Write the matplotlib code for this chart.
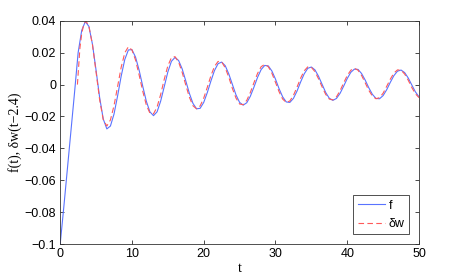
import numpy as np
import matplotlib
matplotlib.use("Agg")
import matplotlib.pyplot as plt
from matplotlib.ticker import FixedLocator, FixedFormatter

# f(t), every 0.5
t_f = np.arange(0, 50.01, 0.5)
f_vals = [-0.100, -0.077, -0.053, -0.029, -0.005, 0.020, 0.034, 0.0395,
          0.0365, 0.0252, 0.0089, -0.0082, -0.0216, -0.0278,
          -0.0260, -0.0185, -0.0071, 0.0053, 0.0157, 0.0217,
          0.0219, 0.0172, 0.0090, -0.0010, -0.0104, -0.0171, -0.0195,
          -0.0171, -0.0104, -0.0013, 0.0079, 0.0146, 0.0170,
          0.0151, 0.0098, 0.0023, -0.0055, -0.0118, -0.0152,
          -0.0149, -0.0112, -0.0050, 0.0022, 0.0088, 0.0131,
          0.0141, 0.0118, 0.0066, 0.0000, -0.0065, -0.0112, -0.0129,
          -0.0114, -0.0073, -0.0016, 0.0045, 0.0094, 0.0120,
          0.0117, 0.0085, 0.0034, -0.0026, -0.0077, -0.0109,
          -0.0112, -0.0087, -0.0041, 0.0016, 0.0067, 0.0102,
          0.0110, 0.0092, 0.0052, 0.0001, -0.0050, -0.0086, -0.0099,
          -0.0087, -0.0055, -0.0010, 0.0038, 0.0077, 0.0097,
          0.0095, 0.0069, 0.0028, -0.0020, -0.0061, -0.0087,
          -0.0089, -0.0069, -0.0032, 0.0014, 0.0056, 0.0084,
          0.0091, 0.0075, 0.0041, -0.0003, -0.0046, -0.0077]

# dw(t-2.4), starts at t = 2.4
t_w = [2.4, 2.75, 3.0, 3.3, 3.6] + list(np.arange(4.0, 50.01, 0.5))
w_vals = [0.000, 0.023, 0.032, 0.038, 0.0398,
          0.0366, 0.0249, 0.0078, -0.0096, -0.0220,
          -0.0260, -0.0222, -0.0132, -0.0012, 0.0109, 0.0199, 0.0237,
          0.0217, 0.0154, 0.0060, -0.0041, -0.0128, -0.0179,
          -0.0184, -0.0141, -0.0062, 0.0033, 0.0117, 0.0169,
          0.0175, 0.0141, 0.0076, -0.0003, -0.0079, -0.0133, -0.0152,
          -0.0134, -0.0085, -0.0017, 0.0055, 0.0114, 0.0145,
          0.0142, 0.0105, 0.0045, -0.0025, -0.0085, -0.0122,
          -0.0126, -0.0099, -0.0049, 0.0012, 0.0070, 0.0112, 0.0127,
          0.0112, 0.0071, 0.0014, -0.0045, -0.0091, -0.0112,
          -0.0103, -0.0068, -0.0016, 0.0040, 0.0086, 0.0111,
          0.0108, 0.0081, 0.0036, -0.0015, -0.0062, -0.0091,
          -0.0096, -0.0077, -0.0038, 0.0010, 0.0057, 0.0090, 0.0102,
          0.0090, 0.0057, 0.0011, -0.0036, -0.0072, -0.0089,
          -0.0082, -0.0054, -0.0011, 0.0034, 0.0072, 0.0092,
          0.0090, 0.0066, 0.0027, -0.0019, -0.0058, -0.0082]

x_ticks = [0, 10, 20, 30, 40, 50]
y_ticks = [-0.1, -0.08, -0.06, -0.04, -0.02, 0, 0.02, 0.04]
y_ticklabels = ['\u22120.1', '\u22120.08', '\u22120.06', '\u22120.04',
                '\u22120.02', '0', '0.02', '0.04']

plt.rcParams['font.family'] = ['Liberation Sans', 'DejaVu Sans']

fig = plt.figure(figsize=(4.63, 2.77), dpi=100)
ax = fig.add_axes([0.130, 0.119, 0.775, 0.806])

ax.plot(t_f, f_vals, color=(0.35, 0.45, 1.0), lw=0.8, label='f')
ax.plot(t_w, w_vals, color=(1.0, 0.35, 0.35), lw=0.8, ls=(0, (5, 3)), label='\u03b4w')

ax.set_xlim(0, 50)
ax.set_ylim(-0.1, 0.04)
ax.xaxis.set_major_locator(FixedLocator(x_ticks))
ax.yaxis.set_major_locator(FixedLocator(y_ticks))
ax.yaxis.set_major_formatter(FixedFormatter(y_ticklabels))
ax.tick_params(direction='in', length=3, width=0.5, labelsize=9,
               top=True, right=True, pad=3)
for s in ax.spines.values():
    s.set_linewidth(0.6)
    s.set_color('#333333')

ax.set_xlabel('t', family='Liberation Serif', fontsize=10, labelpad=1)
ax.set_ylabel('f(t), \u03b4w(t\u22122.4)', family='Liberation Serif', fontsize=10, labelpad=2)

leg = ax.legend(loc='lower right', fontsize=9, fancybox=False, framealpha=1,
                edgecolor='#333333', handlelength=2.2, borderpad=0.35,
                bbox_to_anchor=(0.99, 0.015), labelspacing=0.5, handletextpad=0.3)
leg.get_frame().set_linewidth(0.6)

fig.savefig('out.png', dpi=100)
